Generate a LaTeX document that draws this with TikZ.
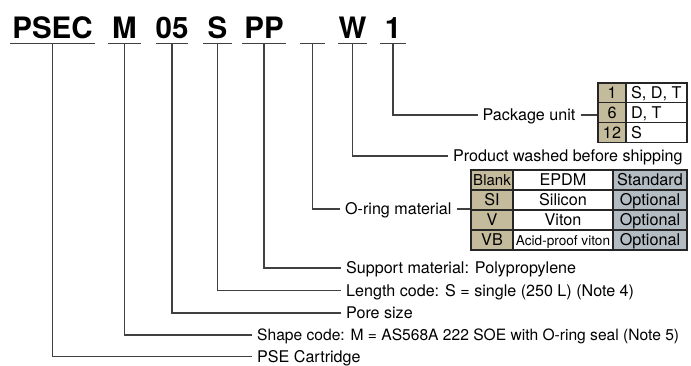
\documentclass[tikz,border=0pt]{standalone}
\usepackage{fontspec}
\setmainfont{TeX Gyre Heros}
\definecolor{lc}{HTML}{404040}
\definecolor{tan}{HTML}{C4BB9C}
\definecolor{slate}{HTML}{B3BCC2}
\begin{document}
\begin{tikzpicture}[x=1pt,y=-1pt,
  code/.style={font=\fontsize{29.5}{30}\selectfont\bfseries, inner sep=0pt, anchor=base},
  uline/.style={fill=lc, draw=none, inner sep=0pt, minimum height=1.4pt},
  lead/.style={draw=lc, line width=1.3pt},
  lab/.style={font=\fontsize{16.1}{19}\selectfont, anchor=west, inner xsep=5pt, inner ysep=0pt, text height=11.7pt, text depth=0pt},
  cell/.style={draw=black!85, line width=1.1pt, inner sep=0pt, minimum height=19.7pt, text height=11.7pt, text depth=0pt, font=\fontsize{16.2}{19}\selectfont},
  ocell/.style={cell, minimum height=20pt}
]
\useasboundingbox (0,0) rectangle (691,365);

% codes
\node[code] (c1) at (52.5,38) {PSEC};
\node[code] (c2) at (124.5,38) {M};
\node[code] (c3) at (172,38) {05};
\node[code] (c4) at (217.5,38) {S};
\node[code] (c5) at (264,38) {PP};
\node[code] (c7) at (352.5,38) {W};
\node[code] (c8) at (393,38) {1};

\node[uline, minimum width=85pt] (u1) at (52.5,43.5) {};
\node[uline, minimum width=33pt] (u2) at (124.5,43.5) {};
\node[uline, minimum width=32pt] (u3) at (172,43.5) {};
\node[uline, minimum width=29pt] (u4) at (217.5,43.5) {};
\node[uline, minimum width=44pt] (u5) at (264,43.5) {};
\node[uline, minimum width=25pt] (u6) at (312.5,43.5) {};
\node[uline, minimum width=29pt] (u7) at (352.5,43.5) {};
\node[uline, minimum width=26pt] (u8) at (393,43.5) {};

% labels
\node[lab] (l8) at (477.5,115) {Package unit};
\node[lab] (l7) at (448,156) {Product washed before shipping};
\node[lab] (l6) at (340,209) {O-ring material};
\node[lab] (l5) at (341,268) {Support material: Polypropylene};
\node[lab] (l4) at (341,290.5) {Length code: S = single (250 L) (Note 4)};
\node[lab] (l3) at (341,313) {Pore size};
\node[lab, font=\fontsize{15.6}{19}\selectfont] (l2) at (252,335) {Shape code: M = AS568A 222 SOE with O-ring seal (Note 5)};
\node[lab] (l1) at (252,356.5) {PSE Cartridge};

% package table
\node[cell, fill=tan, minimum width=28pt] (p11) at (612,92.8) {1};
\node[cell, fill=tan, minimum width=28pt] (p21) at (612,112.5) {6};
\node[cell, fill=tan, minimum width=28pt] (p31) at (612,132.2) {12};
\node[cell, fill=white, minimum width=61pt] (p12) at (656.5,92.8) {\makebox[51pt][l]{S, D, T}};
\node[cell, fill=white, minimum width=61pt] (p22) at (656.5,112.5) {\makebox[51pt][l]{D, T}};
\node[cell, fill=white, minimum width=61pt] (p32) at (656.5,132.2) {\makebox[51pt][l]{S}};

% o-ring table
\node[ocell, fill=tan, minimum width=42pt, font=\fontsize{15}{18}\selectfont] (o11) at (492,180) {Blank};
\node[ocell, fill=tan, minimum width=42pt] (o21) at (492,200) {SI};
\node[ocell, fill=tan, minimum width=42pt] (o31) at (492,220) {V};
\node[ocell, fill=tan, minimum width=42pt] (o41) at (492,240) {VB};
\node[ocell, fill=white, minimum width=100pt] (o12) at (563,180) {EPDM};
\node[ocell, fill=white, minimum width=100pt] (o22) at (563,200) {Silicon};
\node[ocell, fill=white, minimum width=100pt] (o32) at (563,220) {Viton};
\node[ocell, fill=white, minimum width=100pt, font=\fontsize{13.6}{16}\selectfont] (o42) at (563,240) {Acid-proof viton};
\node[ocell, fill=slate, minimum width=74pt] (o13) at (650,180) {Standard};
\node[ocell, fill=slate, minimum width=74pt] (o23) at (650,200) {Optional};
\node[ocell, fill=slate, minimum width=74pt] (o33) at (650,220) {Optional};
\node[ocell, fill=slate, minimum width=74pt] (o43) at (650,240) {Optional};

% leaders
\draw[lead] (u8.south) |- (l8.west);
\draw[lead] (l8.east) -- (l8.east -| p21.west);
\draw[lead] (u7.south) |- (l7.west);
\draw[lead] (u6.south) |- (l6.west);
\draw[lead] (l6.east) -- (l6.east -| o21.west);
\draw[lead] (u5.south) |- (l5.west);
\draw[lead] (u4.south) |- (l4.west);
\draw[lead] (u3.south) |- (l3.west);
\draw[lead] (u2.south) |- (l2.west);
\draw[lead] (u1.south) |- (l1.west);
\end{tikzpicture}
\end{document}
